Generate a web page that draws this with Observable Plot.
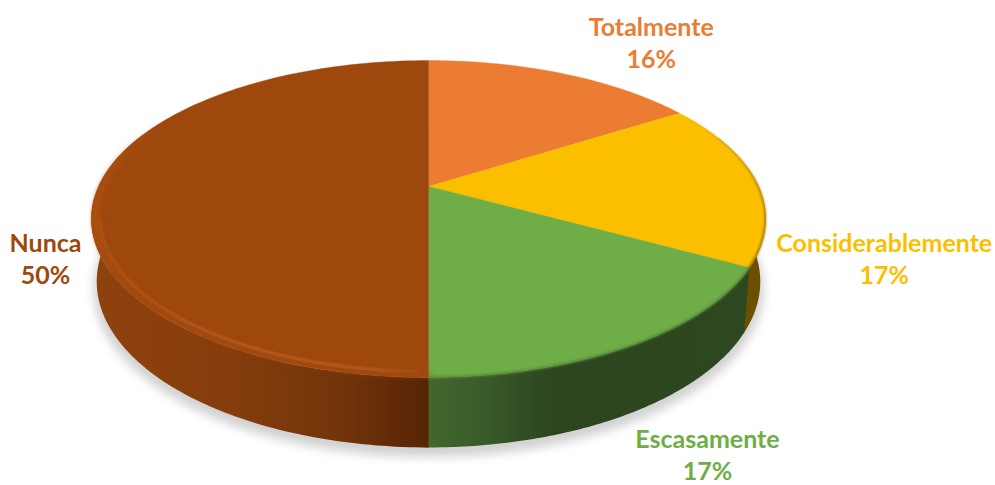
<!DOCTYPE html>
<html>
<head>
<meta charset="utf-8">
<style>
  html, body { margin: 0; padding: 0; background: #fff; }
  svg { display: block; }
</style>
<script src="https://cdn.jsdelivr.net/npm/d3@7"></script>
<script src="https://cdn.jsdelivr.net/npm/@observablehq/plot@0.6"></script>
</head>
<body>
<script>
// Survey answers, clockwise from twelve o'clock.
const categories = ["Totalmente", "Considerablemente", "Escasamente", "Nunca"];
const shares = [16, 17, 17, 50];
const colors = ["#EC7C31", "#FCBF00", "#6FAD47", "#9E480E"];

// Tilted-disc projection: unit circle -> top face and lower rim of the drum.
const tilt = -0.205;
const project = (deg, r = 1) => {
  const a = deg * Math.PI / 180;
  const u = r * Math.sin(a), v = -r * Math.cos(a), w = 1 + tilt * v;
  return [u / w, v / w];
};
const onTop = (deg, r = 1) => { const [x, y] = project(deg, r); return {x, y}; };
const onBase = (deg, grow = 1, drop = 0) => {
  const [x, y] = project(deg);
  return {x: 0.984 * grow * x, y: 0.402 + drop + 1.047 * grow * y};
};
const sweep = (a, b) => d3.range(0, 121).map((i) => a + (b - a) * i / 120);

// Slice angles accumulated from the shares.
const total = d3.sum(shares);
let running = 0;
const slices = categories.map((name, i) => {
  const start = running / total * 360;
  running += shares[i];
  return {name, share: shares[i], start, end: running / total * 360};
});

const facePoints = (s) => [{x: 0, y: 0}, ...sweep(s.start, s.end).map((d) => onTop(d)), {x: 0, y: 0}]
  .map((p) => ({...p, name: s.name}));

// Only the part of the wall facing the viewer is drawn; each wall tucks
// slightly under the next one so no seam shows between them.
const frontFrom = 70, frontTo = 290;
const wallPoints = (s) => {
  const a = Math.max(s.start, frontFrom), b = Math.min(s.end + 0.4, frontTo);
  return a < b ? [...sweep(a, b).map((d) => onTop(d)), ...sweep(b, a).map((d) => onBase(d))] : [];
};

// Side-wall shading runs left to right across each slice.
const gradient = (id, stops, vertical = false) =>
  `<linearGradient id="${id}" x1="0" x2="${vertical ? 0 : 1}" y1="0" y2="${vertical ? 1 : 0}">${
    stops.map(([o, c, a = 1]) => `<stop offset="${o}" stop-color="${c}" stop-opacity="${a}"/>`).join("")
  }</linearGradient>`;
const defs = () => {
  const g = document.createElementNS("http://www.w3.org/2000/svg", "g");
  g.innerHTML = `<defs>
    ${gradient("wall-Considerablemente", [[0, "#6a5000"], [1, "#6a5000"]])}
    ${gradient("wall-Escasamente", [[0, "#42692c"], [0.2, "#38592a"], [0.4, "#2c451e"], [1, "#2d471f"]])}
    ${gradient("wall-Nunca", [[0, "#8f420e"], [0.4, "#863d0c"], [0.75, "#72340a"], [1, "#562405"]])}
    ${gradient("rim-band", [[0, "#b5540f", 0], [0.35, "#b5540f", 0.9], [0.6, "#a94d10", 0.7], [1, "#a64a0f", 0.4]], true)}
    ${gradient("rim-light", [[0, "#b8581a"], [0.5, "#c8692f"], [0.85, "#c4652b"], [1, "#aa4d12"]])}
    ${gradient("rim-yellow", [[0, "#8a6a00", 0], [0.45, "#8a6a00", 0.8], [1, "#7a5e00", 1]], true)}
  </defs>`;
  return g;
};

const shadow = sweep(0, 360).map((d) => onBase(d, 1.01, 0.05));

const labelOffset = {
  Totalmente: [88, -32],
  Considerablemente: [128, 76],
  Escasamente: [75, 109],
  Nunca: [-53, 71]
};

const chart = Plot.plot({
  width: 995,
  height: 485,
  margin: 0,
  style: {background: "#fff"},
  x: {domain: [-428 / 330, 567 / 330], range: [0, 995], axis: null},
  y: {domain: [-186 / 151.8, 299 / 151.8], range: [0, 485], axis: null},
  color: {domain: categories, range: colors},
  marks: [
    defs,
    Plot.line(shadow, {x: "x", y: "y", fill: "#d2d2d2", stroke: "none", imageFilter: "blur(5px)"}),
    ...slices.map((s) => Plot.line(wallPoints(s), {
      x: "x", y: "y", fill: `url(#wall-${s.name})`, stroke: "none"
    })),
    ...slices.map((s) => Plot.line(facePoints(s), {
      x: "x", y: "y", z: "name", fill: "name", stroke: "name", strokeWidth: 0.4
    })),
    // Bevel along the rim of the disc
    Plot.line(sweep(58, 119).map((d) => onTop(d, 0.999)), {
      x: "x", y: "y", stroke: "url(#rim-yellow)", strokeWidth: 1.6, imageFilter: "blur(1px)"
    }),
    Plot.line(sweep(119, 180).map((d) => onTop(d, 1)), {
      x: "x", y: "y", stroke: "#55803a", strokeWidth: 2, imageFilter: "blur(1.2px)"
    }),
    Plot.line(sweep(180, 300).map((d) => onTop(d, 0.988)), {
      x: "x", y: "y", stroke: "url(#rim-band)", strokeWidth: 6, imageFilter: "blur(2.5px)"
    }),
    Plot.line(sweep(181, 258).map((d) => onTop(d, 0.975)), {
      x: "x", y: "y", stroke: "url(#rim-light)", strokeWidth: 1.6, imageFilter: "blur(1.2px)"
    }),
    ...slices.map((s) => {
      const [dx, dy] = labelOffset[s.name];
      return Plot.text([{...onTop((s.start + s.end) / 2), name: s.name, text: `${s.name}\n${s.share}%`}], {
        x: "x", y: "y", dx, dy, text: "text", fill: "name",
        fontFamily: "Lato", fontWeight: 700, fontSize: 25, lineHeight: 1.27,
        textAnchor: "middle", lineAnchor: "middle"
      });
    })
  ]
});
document.body.appendChild(chart);
</script>
</body>
</html>
